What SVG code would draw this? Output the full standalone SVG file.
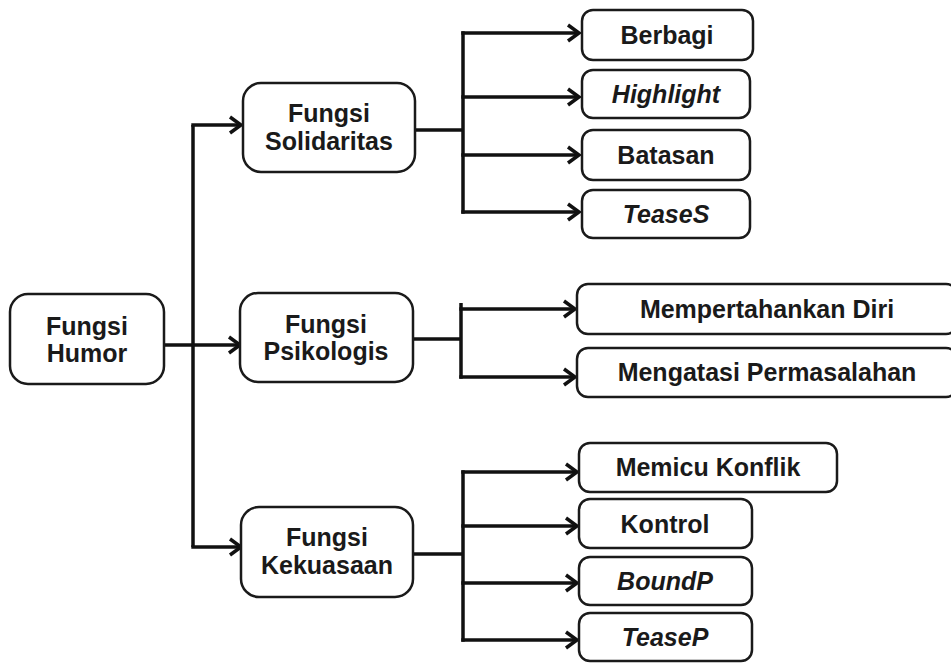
<svg xmlns="http://www.w3.org/2000/svg" width="951" height="663" viewBox="0 0 951 663">
<defs>
<style>
.box{fill:#fff;stroke:#1a1a1a;stroke-width:2.5}
.t{font-family:"Liberation Sans",Arial,sans-serif;font-weight:bold;font-size:25px;fill:#1a1a1a;text-anchor:middle}
.i{font-style:italic}
.ln{fill:none;stroke:#111;stroke-width:3.5;stroke-linecap:butt;stroke-linejoin:miter}
.ar{marker-end:url(#ah)}
</style>
<marker id="ah" markerUnits="userSpaceOnUse" markerWidth="16" markerHeight="20" refX="13" refY="10" orient="auto">
<path d="M2,2 L13,10 L2,18" fill="none" stroke="#111" stroke-width="3.5"/>
</marker>
</defs>
<rect width="951" height="663" fill="#fff"/>
<g id="connectors">
<path class="ln" d="M164,345 H240" marker-end="url(#ah)"/>
<path class="ln" d="M193,125 V547"/>
<path class="ln" d="M191.3,125 H241" marker-end="url(#ah)"/>
<path class="ln" d="M191.3,547 H241" marker-end="url(#ah)"/>
<path class="ln" d="M415,130 H463"/>
<path class="ln" d="M463,31.3 V213.7"/>
<path class="ln" d="M461.3,33 H579" marker-end="url(#ah)"/>
<path class="ln" d="M461.3,97 H579" marker-end="url(#ah)"/>
<path class="ln" d="M461.3,155 H579" marker-end="url(#ah)"/>
<path class="ln" d="M461.3,212 H579" marker-end="url(#ah)"/>
<path class="ln" d="M413,339 H461"/>
<path class="ln" d="M461,303 V378.7"/>
<path class="ln" d="M459.3,309 H575" marker-end="url(#ah)"/>
<path class="ln" d="M459.3,377 H575" marker-end="url(#ah)"/>
<path class="ln" d="M414,554 H463"/>
<path class="ln" d="M463,470.3 V641.7"/>
<path class="ln" d="M461.3,472 H577" marker-end="url(#ah)"/>
<path class="ln" d="M461.3,526 H577" marker-end="url(#ah)"/>
<path class="ln" d="M461.3,583 H577" marker-end="url(#ah)"/>
<path class="ln" d="M461.3,640 H577" marker-end="url(#ah)"/>
</g>
<g id="humor"><rect class="box" x="10" y="294" width="154" height="90" rx="18"/><text class="t" x="87" y="335">Fungsi</text><text class="t" x="87" y="362">Humor</text></g>
<g id="solidaritas"><rect class="box" x="243" y="83" width="172" height="89" rx="18"/><text class="t" x="329" y="122">Fungsi</text><text class="t" x="329" y="150">Solidaritas</text></g>
<g id="psikologis"><rect class="box" x="240" y="293" width="173" height="89" rx="18"/><text class="t" x="326" y="333">Fungsi</text><text class="t" x="326" y="360">Psikologis</text></g>
<g id="kekuasaan"><rect class="box" x="241" y="507" width="172" height="90" rx="18"/><text class="t" x="327" y="546">Fungsi</text><text class="t" x="327" y="574">Kekuasaan</text></g>
<g id="berbagi"><rect class="box" x="582" y="10" width="171" height="50" rx="11"/><text class="t" x="667" y="44">Berbagi</text></g>
<g id="highlight"><rect class="box" x="582" y="70" width="168" height="48" rx="11"/><text class="t i" x="666" y="103">Highlight</text></g>
<g id="batasan"><rect class="box" x="582" y="130" width="168" height="50" rx="11"/><text class="t" x="666" y="164">Batasan</text></g>
<g id="teases"><rect class="box" x="582" y="190" width="168" height="48" rx="11"/><text class="t i" x="666" y="223">TeaseS</text></g>
<g id="mempertahankan"><rect class="box" x="577" y="284" width="380" height="50" rx="11"/><text class="t" x="767" y="318">Mempertahankan Diri</text></g>
<g id="mengatasi"><rect class="box" x="577" y="348" width="380" height="49" rx="11"/><text class="t" x="767" y="381">Mengatasi Permasalahan</text></g>
<g id="memicu"><rect class="box" x="579" y="443" width="258" height="49" rx="11"/><text class="t" x="708" y="476">Memicu Konflik</text></g>
<g id="kontrol"><rect class="box" x="579" y="499" width="173" height="49" rx="11"/><text class="t" x="665" y="533">Kontrol</text></g>
<g id="boundp"><rect class="box" x="579" y="557" width="173" height="48" rx="11"/><text class="t i" x="665" y="590">BoundP</text></g>
<g id="teasep"><rect class="box" x="579" y="613" width="173" height="48" rx="11"/><text class="t i" x="665" y="646">TeaseP</text></g>
</svg>
